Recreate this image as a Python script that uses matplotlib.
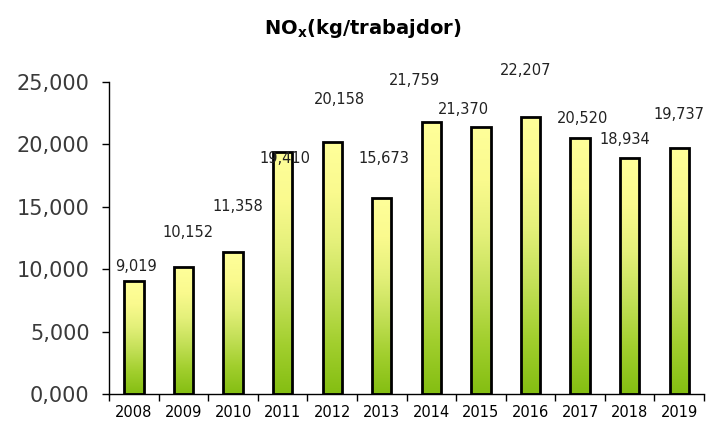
import numpy as np
import matplotlib
matplotlib.use("Agg")
import matplotlib.pyplot as plt
from matplotlib.colors import LinearSegmentedColormap
from matplotlib.ticker import FuncFormatter, FixedLocator

years = ["2008", "2009", "2010", "2011", "2012", "2013",
         "2014", "2015", "2016", "2017", "2018", "2019"]
values = [9.019, 10.152, 11.358, 19.410, 20.158, 15.673,
          21.759, 21.370, 22.207, 20.520, 18.934, 19.737]
labels = ["9,019", "10,152", "11,358", "19,410", "20,158", "15,673",
          "21,759", "21,370", "22,207", "20,520", "18,934", "19,737"]
# where the value labels sit (data units), as placed in the original
label_y = [10.25, 12.95, 15.05, 18.9, 23.55, 18.9,
           25.1, 22.75, 25.95, 22.1, 20.4, 22.4]
label_dx = [0.05, 0.1, 0.1, 0.05, 0.15, 0.05,
            -0.35, -0.35, -0.1, 0.05, -0.1, 0.0]

fig = plt.figure(figsize=(7.09, 4.22), dpi=100)
ax = fig.add_axes([0.154, 0.066, 0.839, 0.740])

x = np.arange(len(years))
width = 0.39
cmap = LinearSegmentedColormap.from_list(
    "gy", ["#84be12", "#a2cf2e", "#c4e058", "#e4f07a", "#fafa8e", "#ffff9a"])
grad = np.linspace(0, 1, 256).reshape(-1, 1)

bars = ax.bar(x, values, width=width, facecolor="none", edgecolor="black", lw=2.0, zorder=3)
for b in bars:
    x0, y0 = b.get_x(), b.get_y()
    w, h = b.get_width(), b.get_height()
    im = ax.imshow(grad, cmap=cmap, origin="lower", aspect="auto",
                   extent=[x0, x0 + w, y0, y0 + h], zorder=2)
    im.set_clip_path(b)

for i, (lab, ly, dx) in enumerate(zip(labels, label_y, label_dx)):
    ax.text(x[i] + dx, ly, lab, ha="center", va="center", fontsize=10.5,
            color="#222222", clip_on=False)

ax.set_xlim(-0.5, len(years) - 0.5)
ax.set_ylim(0, 25)
ax.set_yticks(np.arange(0, 26, 5))
ax.yaxis.set_major_formatter(FuncFormatter(lambda v, p: f"{v:.3f}".replace(".", ",")))
ax.tick_params(axis="y", labelsize=15, length=5, width=1, direction="out", pad=9,
               labelcolor="#3a3a3a")

ax.set_xticks(x)
ax.set_xticklabels(years)
ax.xaxis.set_minor_locator(FixedLocator(np.arange(-0.5, len(years), 1.0)))
ax.tick_params(axis="x", which="major", length=0, labelsize=10.5, pad=8)
ax.tick_params(axis="x", which="minor", length=5, width=1, direction="out")

for s in ["top", "right"]:
    ax.spines[s].set_visible(False)
ax.spines["left"].set_linewidth(1)
ax.spines["bottom"].set_linewidth(1)

fig.text(0.512, 0.932, r"NO$_\mathregular{x}$(kg/trabajdor)", ha="center", va="center",
         fontsize=14, fontweight="bold")

fig.savefig("out.png", dpi=100)
